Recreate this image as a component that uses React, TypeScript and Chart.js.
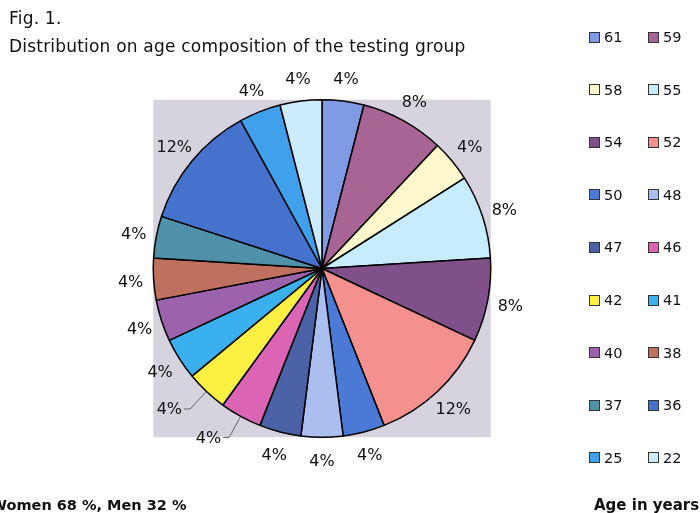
import React, { useEffect, useRef } from "react";
import { Chart, registerables } from "chart.js";

Chart.register(...registerables);

const ages = ["61", "59", "58", "55", "54", "52", "50", "48", "47", "46", "42", "41", "40", "38", "37", "36", "25", "22"];
const counts = [1, 2, 1, 2, 2, 3, 1, 1, 1, 1, 1, 1, 1, 1, 1, 3, 1, 1];
const percents = [4, 8, 4, 8, 8, 12, 4, 4, 4, 4, 4, 4, 4, 4, 4, 12, 4, 4];
const colors = [
  "#7f9be3", "#a86494", "#fff8cc", "#c6ecfe", "#80508a", "#f4908e",
  "#4a7ad6", "#aabff0", "#4b62a6", "#dc64b4", "#fef043", "#3ab0ee",
  "#9c62ac", "#c0705e", "#5090a8", "#4472cc", "#40a0ec", "#ccecfe",
];
const leaderLabels = ["42", "46"];

const titleLine1 = "Fig. 1.";
const titleLine2 = "Distribution on age composition of the testing group";
const footLeft = "Women 68 %, Men 32 %";
const footRight = "Age in years";

const plotBgPlugin = {
  id: "plotBg",
  beforeDatasetsDraw(chart: any) {
    const meta = chart.getDatasetMeta(0);
    const a = meta.data[0];
    if (!a) return;
    const { x, y, outerRadius } = a.getProps(["x", "y", "outerRadius"], true);
    const ctx = chart.ctx;
    ctx.save();
    ctx.fillStyle = "#d6d3de";
    ctx.fillRect(x - outerRadius, y - outerRadius, outerRadius * 2, outerRadius * 2);
    ctx.restore();
  },
};

const pctLabelPlugin = {
  id: "pctLabels",
  afterDatasetsDraw(chart: any) {
    const meta = chart.getDatasetMeta(0);
    const ctx = chart.ctx;
    ctx.save();
    ctx.font = "16px 'DejaVu Sans'";
    ctx.fillStyle = "#111";
    ctx.textBaseline = "middle";
    meta.data.forEach((arc: any, i: number) => {
      const { x, y, startAngle, endAngle, outerRadius } = arc.getProps(
        ["x", "y", "startAngle", "endAngle", "outerRadius"],
        true
      );
      const mid = (startAngle + endAngle) / 2;
      const text = percents[i] + "%";
      if (leaderLabels.includes(ages[i])) {
        const x0 = x + Math.cos(mid) * (outerRadius + 1);
        const y0 = y + Math.sin(mid) * (outerRadius + 1);
        const x1 = x + Math.cos(mid) * (outerRadius + 24);
        const y1 = y + Math.sin(mid) * (outerRadius + 24);
        ctx.strokeStyle = "#666";
        ctx.lineWidth = 1;
        ctx.beginPath();
        ctx.moveTo(x0, y0);
        ctx.lineTo(x1, y1);
        ctx.lineTo(x1 - 6, y1);
        ctx.stroke();
        ctx.textAlign = "right";
        ctx.fillText(text, x1 - 8, y1 + 1);
      } else {
        const r = outerRadius + 23;
        ctx.textAlign = "center";
        ctx.fillText(text, x + Math.cos(mid) * r, y + 2 + Math.sin(mid) * r);
      }
    });
    ctx.restore();
  },
};

export default function App() {
  const ref = useRef<HTMLCanvasElement | null>(null);

  useEffect(() => {
    if (!ref.current) return;
    const chart = new Chart(ref.current, {
      type: "pie",
      data: {
        labels: ages,
        datasets: [
          {
            data: counts,
            backgroundColor: colors,
            borderColor: "#000",
            borderWidth: 1.5,
          },
        ],
      },
      options: {
        responsive: false,
        animation: false,
        layout: { padding: { left: 152, right: 208, top: 99, bottom: 75 } },
        plugins: {
          legend: { display: false },
          title: { display: false },
          tooltip: { enabled: false },
        },
      },
      plugins: [plotBgPlugin, pctLabelPlugin],
    });
    return () => chart.destroy();
  }, []);

  const rowStart = 37;
  const rowGap = 52.6;
  const legendRows: number[] = [];
  for (let i = 0; i < ages.length; i += 2) legendRows.push(i);

  return (
    <div
      style={{
        position: "absolute",
        left: 0,
        top: 0,
        width: 700,
        height: 513,
        overflow: "hidden",
        background: "#fff",
        fontFamily: "'DejaVu Sans', sans-serif",
        color: "#111",
      }}
    >
      <canvas ref={ref} width={700} height={513} style={{ position: "absolute", left: 0, top: 0 }} />
      <div style={{ position: "absolute", left: 9, top: 7, fontSize: 17, lineHeight: "22px", whiteSpace: "nowrap", letterSpacing: 0.2 }}>
        {titleLine1}
      </div>
      <div style={{ position: "absolute", left: 9, top: 35, fontSize: 17, lineHeight: "22px", whiteSpace: "nowrap", letterSpacing: 0.2 }}>
        {titleLine2}
      </div>
      {legendRows.map((start, row) => (
        <React.Fragment key={start}>
          {[0, 1].map((c) => {
            const idx = start + c;
            if (idx >= ages.length) return null;
            const left = c === 0 ? 589 : 648;
            const top = rowStart + row * rowGap;
            return (
              <div key={idx} style={{ position: "absolute", left, top: top - 9, height: 18, display: "flex", alignItems: "center", whiteSpace: "nowrap", fontSize: 14.5 }}>
                <span style={{ display: "inline-block", width: 9, height: 9, background: colors[idx], border: "1px solid #333", marginRight: 4 }} />
                <span>{ages[idx]}</span>
              </div>
            );
          })}
        </React.Fragment>
      ))}
      <div style={{ position: "absolute", left: -9, top: 495, fontSize: 14.5, fontWeight: "bold", lineHeight: "20px", whiteSpace: "nowrap" }}>
        {footLeft}
      </div>
      <div style={{ position: "absolute", left: 594, top: 495, fontSize: 15, fontWeight: "bold", lineHeight: "20px", whiteSpace: "nowrap" }}>
        {footRight}
      </div>
    </div>
  );
}
